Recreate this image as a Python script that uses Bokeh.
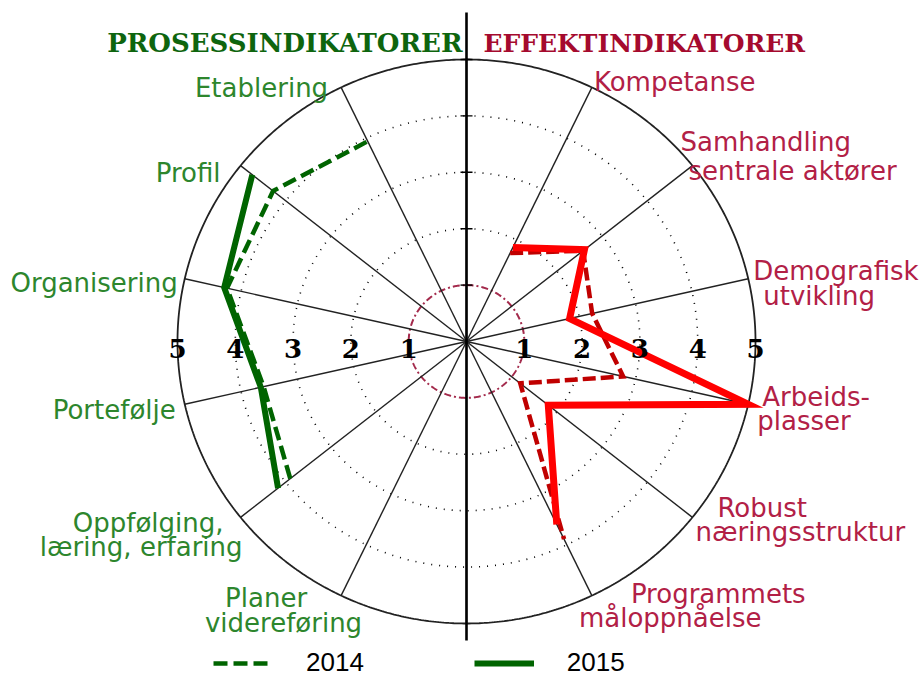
import math
import numpy as np
from bokeh.plotting import figure
from bokeh.models import Range1d, Legend, LegendItem
from bokeh.core.properties import value
from bokeh.embed import file_html
from bokeh.resources import INLINE

nan = float("nan")

# ---------------- data ----------------
N_DIRS = 14  # 12 indicators + empty top/bottom directions
effekt_labels = ["Kompetanse", "Samhandling\nsentrale aktører", "Demografisk\nutvikling",
                 "Arbeids-\nplasser", "Robust\nnæringsstruktur", "Programmets\nmåloppnåelse"]
effekt_dirs = [1, 2, 3, 4, 5, 6]
effekt_2014 = [1.74, 2.58, 2.23, 2.78, 1.19, 3.89]
effekt_2015 = [1.85, 2.61, 1.83, 5.00, 1.81, 3.60]

prosess_labels = ["Planer\nvidereføring", "Oppfølging,\nlæring, erfaring", "Portefølje",
                  "Organisering", "Profil", "Etablering"]
prosess_dirs = [8, 9, 10, 11, 12, 13]
prosess_2014 = [nan, 3.90, 3.60, 4.25, 4.28, 3.94]
prosess_2015 = [nan, 4.17, 3.65, 4.30, 4.74, nan]

ring_values = [1, 2, 3, 4, 5]
ring_labels = ["1", "2", "3", "4", "5"]
legend_labels = ["2014", "2015"]
group_titles = ["PROSESSINDIKATORER", "EFFEKTINDIKATORER"]

# ---------------- layout / style ----------------
W, H = 924, 679
SX, SY = 57.8, 56.4       # px per unit
CX, CY = 466, 341         # centre in picture px
RMAX = 5

GREEN_LINE = "#006400"
GREEN_TEXT = "#2D862D"
GREEN_TITLE = "#0E650E"
RED_SOLID = "#FF0000"
RED_DASH = "#C00000"
RED_TEXT = "#B22046"
RED_TITLE = "#A50A2E"
RING1 = "#A3294B"

# per-line label offsets from spoke tip (px, dy positive = down)
effekt_offsets = [[(2, -5)], [(-12, -24), (-4, 5)], [(5, -8), (15, 17)],
                  [(14, -7), (9, 17)], [(25, -9), (3, 15)], [(39, -2), (-13, 22)]]
prosess_offsets = [[(-34, 2), (21, 27)], [(-17, 6), (2, 30)], [(-9, 6)],
                   [(-7, 4)], [(-20, 7)], [(-13, 1)]]


def polar(k, v):
    th = 2 * math.pi * k / N_DIRS
    return v * math.sin(th), v * math.cos(th)


p = figure(width=W, height=H,
           x_range=Range1d(-CX / SX, (W - CX) / SX),
           y_range=Range1d((CY - H) / SY, CY / SY),
           output_backend="svg", toolbar_location=None,
           x_axis_location=None, y_axis_location=None,
           min_border=0, outline_line_color=None,
           background_fill_color="white", border_fill_color="white")
p.grid.visible = False

t = np.linspace(0, 2 * np.pi, 721)
# dotted rings
for v in ring_values[1:4]:
    p.line(v * np.sin(t), v * np.cos(t), line_color="black", line_width=1.6,
           line_dash="1 7")
# inner ring dash-dot
p.line(ring_values[0] * np.sin(t), ring_values[0] * np.cos(t), line_color=RING1,
       line_width=2, line_dash="7 3 2 3")
# spokes
tips = [polar(k, RMAX) for k in range(N_DIRS)]
p.segment(x0=[0] * N_DIRS, y0=[0] * N_DIRS, x1=[a for a, b in tips],
          y1=[b for a, b in tips], line_color="#222222", line_width=1.4)
# outer ring
p.line(RMAX * np.sin(t), RMAX * np.cos(t), line_color="#222222", line_width=1.8)
# divider
p.segment(x0=[0], y0=[(CY - 640) / SY], x1=[0], y1=[(CY - 12) / SY],
          line_color="black", line_width=2.6)
# small ticks on divider
p.segment(x0=[-6 / SX] * 5, y0=ring_values, x1=[6 / SX] * 5, y1=ring_values,
          line_color="black", line_width=1.4)


def series(dirs, vals):
    xs, ys = [], []
    for k, v in zip(dirs, vals):
        x, y = polar(k, v)
        xs.append(x)
        ys.append(y)
    return np.array(xs), np.array(ys)


x, y = series(prosess_dirs, prosess_2014)
g14 = p.line(x, y, line_color=GREEN_LINE, line_width=4.5, line_dash="14 6",
             line_join="miter")
x, y = series(prosess_dirs, prosess_2015)
g15 = p.line(x, y, line_color=GREEN_LINE, line_width=6, line_join="miter")
x, y = series(effekt_dirs, effekt_2014)
p.line(x, y, line_color=RED_DASH, line_width=4.5, line_dash="13 5", line_join="miter")
x, y = series(effekt_dirs, effekt_2015)
p.line(x, y, line_color=RED_SOLID, line_width=7, line_join="miter")

# ring value labels on horizontal axis
p.text(x=ring_values + [-v for v in ring_values], y=[-7 / SY] * 10,
       text=ring_labels + ring_labels, text_align="center", text_baseline="alphabetic",
       text_font=value("DejaVu Serif"), text_font_style="bold",
       text_font_size="26px", text_color="black")


def label_rows(labels, dirs, offsets):
    xs, ys, txt = [], [], []
    for lab, k, offs in zip(labels, dirs, offsets):
        tx, ty = polar(k, RMAX)
        for line, (dx, dy) in zip(lab.split("\n"), offs):
            xs.append(tx + dx / SX)
            ys.append(ty - dy / SY)
            txt.append(line)
    return xs, ys, txt


xs, ys, txt = label_rows(effekt_labels, effekt_dirs, effekt_offsets)
p.text(x=xs, y=ys, text=txt, text_align="left", text_baseline="alphabetic",
       text_font=value("DejaVu Sans"), text_font_size="26px", text_color=RED_TEXT)
xs, ys, txt = label_rows(prosess_labels, prosess_dirs, prosess_offsets)
p.text(x=xs, y=ys, text=txt, text_align="right", text_baseline="alphabetic",
       text_font=value("DejaVu Sans"), text_font_size="26px", text_color=GREEN_TEXT)

# group titles
p.text(x=[(462 - CX) / SX], y=[(CY - 42) / SY], text=[group_titles[0]],
       text_align="right", text_baseline="alphabetic",
       text_font=value("DejaVu Serif"), text_font_style="bold",
       text_font_size="26px", text_color=GREEN_TITLE)
p.text(x=[(483 - CX) / SX], y=[(CY - 43) / SY], text=[group_titles[1]],
       text_align="left", text_baseline="alphabetic",
       text_font=value("DejaVu Serif"), text_font_style="bold",
       text_font_size="25px", text_color=RED_TITLE)

legend = Legend(items=[LegendItem(label=legend_labels[0], renderers=[g14]),
                       LegendItem(label=legend_labels[1], renderers=[g15])],
                orientation="horizontal", location=(213, 1),
                glyph_width=60, glyph_height=24, label_height=24,
                label_standoff=33, spacing=110, padding=0, margin=0,
                border_line_alpha=0, background_fill_alpha=0,
                label_text_font="Liberation Sans", label_text_font_size="26px",
                label_text_color="black")
p.add_layout(legend)

open("out.html", "w").write(file_html(p, INLINE))
